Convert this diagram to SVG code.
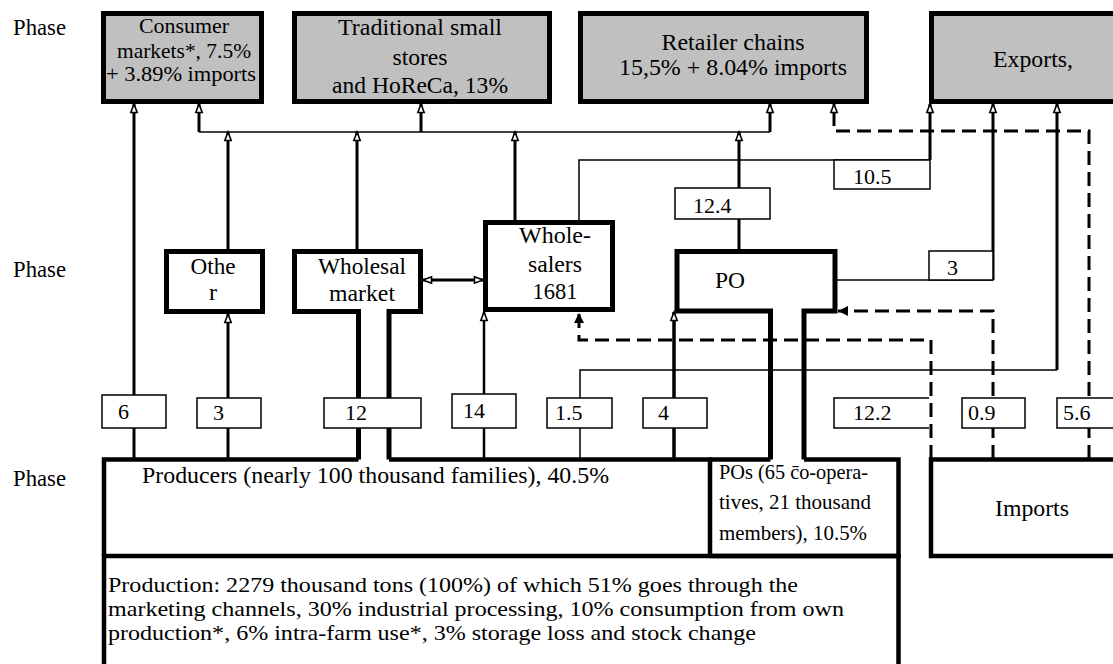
<svg xmlns="http://www.w3.org/2000/svg" width="1113" height="664" viewBox="0 0 1113 664">
<style>
text{font-family:"Liberation Serif",Tinos,"Times New Roman","DejaVu Serif","Noto Serif",serif;fill:#000}
.s24{font-size:24px}.s22{font-size:22px}.s21{font-size:21px}.s23{font-size:23px}.s215{font-size:21.5px}
.m{text-anchor:middle}
.top{fill:#c0c0c0;stroke:#000;stroke-width:5}
.node{fill:none;stroke:#000;stroke-width:5}
.base{fill:none;stroke:#000;stroke-width:4.5}
.lbl{fill:#fff;stroke:#000;stroke-width:1.5}
.thick{fill:none;stroke:#000;stroke-width:3}
.thin{fill:none;stroke:#000;stroke-width:1.5}
.dash{fill:none;stroke:#000;stroke-width:3;stroke-dasharray:14 7}
</style>
<defs>
<marker id="ao" markerUnits="userSpaceOnUse" viewBox="0 0 10 8" refX="9.5" refY="4" markerWidth="10" markerHeight="8" orient="auto-start-reverse" overflow="visible">
<path d="M1,0.8 L9.5,4 L1,7.2 Z" fill="#fff" stroke="#000" stroke-width="1.6"/>
</marker>
<marker id="af" markerUnits="userSpaceOnUse" viewBox="0 0 10 10" refX="10" refY="5" markerWidth="10" markerHeight="10" orient="auto" overflow="visible">
<path d="M0,0 L10,5 L0,10 Z" fill="#000"/>
</marker>
</defs>
<rect width="1113" height="664" fill="#fff"/>

<g id="phases">
<text class="s23" x="13" y="35" textLength="53" lengthAdjust="spacingAndGlyphs">Phase</text>
<text class="s23" x="13" y="277" textLength="53" lengthAdjust="spacingAndGlyphs">Phase</text>
<text class="s23" x="13" y="486" textLength="53" lengthAdjust="spacingAndGlyphs">Phase</text>
</g>

<g id="consumer-markets">
<rect class="top" x="103.5" y="13.5" width="158" height="88"/>
<text class="s22 m" x="184" y="33" textLength="90" lengthAdjust="spacingAndGlyphs">Consumer</text>
<text class="s22 m" x="184" y="58" textLength="134" lengthAdjust="spacingAndGlyphs">markets*, 7.5%</text>
<text class="s22 m" x="181" y="81" textLength="150" lengthAdjust="spacingAndGlyphs">+ 3.89% imports</text>
</g>
<g id="traditional-stores">
<rect class="top" x="294.5" y="13.5" width="255" height="88"/>
<text class="s24 m" x="420" y="35" textLength="164" lengthAdjust="spacingAndGlyphs">Traditional small</text>
<text class="s24 m" x="420" y="65" textLength="55" lengthAdjust="spacingAndGlyphs">stores</text>
<text class="s24 m" x="420" y="93" textLength="176" lengthAdjust="spacingAndGlyphs">and HoReCa, 13%</text>
</g>
<g id="retailer-chains">
<rect class="top" x="580.5" y="13.5" width="286" height="88"/>
<text class="s24 m" x="733" y="50" textLength="143" lengthAdjust="spacingAndGlyphs">Retailer chains</text>
<text class="s24 m" x="733" y="75" textLength="228" lengthAdjust="spacingAndGlyphs">15,5% + 8.04% imports</text>
</g>
<g id="exports">
<rect class="top" x="931.5" y="13.5" width="230" height="88"/>
<text class="s24" x="993" y="67" textLength="80" lengthAdjust="spacingAndGlyphs">Exports,</text>
</g>

<g id="other">
<rect class="node" x="166.5" y="251.5" width="96" height="60"/>
<text class="s24 m" x="213" y="274" textLength="45" lengthAdjust="spacingAndGlyphs">Othe</text>
<text class="s24 m" x="213" y="300">r</text>
</g>
<g id="wholesale-market">
<path class="node" d="M358.5,459.5 V311.5 H294.5 V251.5 H420.5 V311.5 H389 V459.5"/>
<text class="s24 m" x="362" y="274" textLength="88" lengthAdjust="spacingAndGlyphs">Wholesal</text>
<text class="s24 m" x="362" y="301" textLength="66" lengthAdjust="spacingAndGlyphs">market</text>
</g>
<g id="wholesalers">
<rect class="node" x="485.5" y="222.5" width="127" height="87"/>
<text class="s24 m" x="555" y="243" textLength="72" lengthAdjust="spacingAndGlyphs">Whole-</text>
<text class="s24 m" x="555" y="272" textLength="54" lengthAdjust="spacingAndGlyphs">salers</text>
<text class="s24 m" x="555" y="299" textLength="45" lengthAdjust="spacingAndGlyphs">1681</text>
</g>
<g id="po">
<path class="node" d="M770.5,459.5 V311 H677 V251.5 H835 V311 H804 V459.5"/>
<text class="s24 m" x="730" y="288" textLength="30" lengthAdjust="spacingAndGlyphs">PO</text>
</g>

<g id="producers">
<path class="base" d="M104,556 V459.5 H358.5 M389,459.5 H710 V556"/>
<text class="s24" x="142" y="483" textLength="467" lengthAdjust="spacingAndGlyphs">Producers (nearly 100 thousand families), 40.5%</text>
</g>
<g id="pos">
<path class="base" d="M710,459.5 H770.5 M804,459.5 H898.5 V556 H710"/>
<text class="s21" x="719" y="479" textLength="149" lengthAdjust="spacingAndGlyphs">POs (65 c&#x304;o-opera-</text>
<text class="s21" x="719" y="509" textLength="152" lengthAdjust="spacingAndGlyphs">tives, 21 thousand</text>
<text class="s21" x="719" y="540" textLength="148" lengthAdjust="spacingAndGlyphs">members), 10.5%</text>
</g>
<g id="production">
<path class="base" d="M104,672 V556 H898.5 V672"/>
<text class="s215" x="108" y="592" textLength="690" lengthAdjust="spacingAndGlyphs">Production: 2279 thousand tons (100%) of which 51% goes through the</text>
<text class="s215" x="108" y="616" textLength="736" lengthAdjust="spacingAndGlyphs">marketing channels, 30% industrial processing, 10% consumption from own</text>
<text class="s215" x="108" y="640" textLength="648" lengthAdjust="spacingAndGlyphs">production*, 6% intra-farm use*, 3% storage loss and stock change</text>
</g>
<g id="imports">
<rect class="base" x="931" y="459.5" width="230" height="96.5"/>
<text class="s24 m" x="1032" y="516" textLength="74" lengthAdjust="spacingAndGlyphs">Imports</text>
</g>

<g id="connectors">
<path class="thin" d="M199,132 H770"/>
<path class="thick" d="M199,132 V104" marker-end="url(#ao)"/>
<path class="thick" d="M421,132 V104" marker-end="url(#ao)"/>
<path class="thick" d="M770,132 V104" marker-end="url(#ao)"/>
<path class="thick" d="M134,459 V104" marker-end="url(#ao)"/>
<path class="thick" d="M228,459 V314" marker-end="url(#ao)"/>
<path class="thick" d="M228,249 V132" marker-end="url(#ao)"/>
<path class="thick" d="M357,249 V132" marker-end="url(#ao)"/>
<path class="thick" d="M515,220 V132" marker-end="url(#ao)"/>
<path class="thick" d="M739,251 V132" marker-end="url(#ao)"/>
<path class="thick" style="stroke-width:2.5" d="M484,459 V312" marker-end="url(#ao)"/>
<path class="thick" style="stroke-width:3.5" d="M674,459 V312" marker-end="url(#ao)"/>
<path class="thick" d="M423,280 H483" marker-start="url(#ao)" marker-end="url(#ao)"/>
<path class="thin" d="M579,220 V160 H930"/>
<path class="thick" d="M930,160 V104" marker-end="url(#ao)"/>
<path class="thin" d="M837,280 H993"/>
<path class="thick" d="M993,280 V104" marker-end="url(#ao)"/>
<path class="thin" d="M580,459 V370 H1057"/>
<path class="thick" d="M1057,370 V104" marker-end="url(#ao)"/>
<path class="dash" d="M931,459 V340 H579 V313" marker-end="url(#af)"/>
<path class="dash" d="M993,459 V311 H838" marker-end="url(#af)"/>
<path class="dash" d="M1089,459 V131 H834 V104" marker-end="url(#ao)"/>

<g id="labels">
<rect class="lbl" x="102" y="395" width="64" height="33"/>
<text class="s22" x="118" y="419">6</text>
<rect class="lbl" x="197" y="398" width="64" height="30"/>
<text class="s22" x="213" y="420">3</text>
<rect class="lbl" x="324" y="398" width="97" height="30"/>
<text class="s22" x="345" y="420">12</text>
<rect class="lbl" x="452" y="394" width="64" height="34"/>
<text class="s22" x="463" y="418">14</text>
<rect class="lbl" x="547" y="398" width="65" height="30"/>
<text class="s22" x="555" y="420">1.5</text>
<rect class="lbl" x="643" y="398" width="64" height="30"/>
<text class="s22" x="658" y="420">4</text>
<path class="lbl" d="M929,398 H834 V428 H929"/>
<text class="s22" x="853" y="420">12.2</text>
<rect class="lbl" x="962" y="398" width="63" height="30"/>
<text class="s22" x="968" y="420">0.9</text>
<rect class="lbl" x="1057" y="398" width="64" height="30"/>
<text class="s22" x="1063" y="420">5.6</text>
<rect class="lbl" x="675" y="188" width="95" height="31"/>
<text class="s22" x="693" y="213">12.4</text>
<rect class="lbl" x="834" y="160" width="96" height="29"/>
<text class="s22" x="853" y="184">10.5</text>
<rect class="lbl" x="929" y="251" width="64" height="29"/>
<text class="s22" x="947" y="275">3</text>
</g>
</g>
</svg>
